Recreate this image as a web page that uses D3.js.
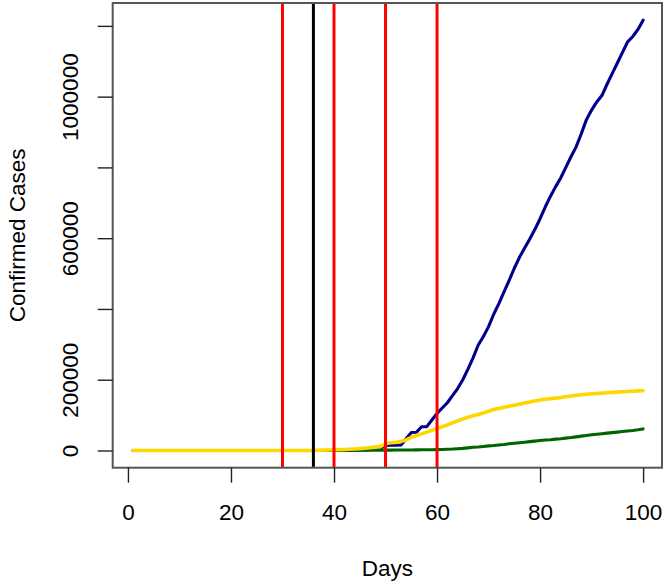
<!DOCTYPE html>
<html>
<head>
<meta charset="utf-8">
<script src="https://cdn.jsdelivr.net/npm/d3@7/dist/d3.min.js"></script>
<style>
  html, body { margin: 0; padding: 0; background: #fff; }
  svg { display: block; font-family: "Liberation Sans", Arial, sans-serif; }
</style>
</head>
<body>
<svg id="chart" width="667" height="585"></svg>
<script>
// ---------------- data ----------------
const days = d3.range(1, 101);

const blueSeries = [
  0, 0, 0, 0, 0, 0, 0, 0, 0, 0,
  0, 0, 0, 0, 0, 0, 0, 0, 0, 0,
  0, 0, 0, 0, 0, 0, 0, 0, 0, 0,
  0, 0, 0, 0, 0, 0, 0, 0, 0, 50,
  100, 200, 400, 600, 1000, 1600, 2500, 3500, 7000, 14000,
  15000, 15000, 15500, 33000, 51000, 51500, 67000, 67500, 86000, 105000,
  120000, 135000, 155000, 175000, 200000, 230000, 262000, 298000, 322000, 350000,
  385000, 415000, 448000, 481000, 515000, 546000, 572000, 598000, 625000, 655000,
  688000, 718000, 745000, 770000, 800000, 830000, 858000, 895000, 935000, 962000,
  985000, 1003000, 1035000, 1065000, 1095000, 1125000, 1155000, 1170000, 1190000, 1216000
];

const greenSeries = [
  0, 0, 0, 0, 0, 0, 0, 0, 0, 0,
  0, 0, 0, 0, 0, 0, 0, 0, 0, 0,
  0, 0, 0, 0, 0, 0, 0, 0, 0, 0,
  0, 0, 0, 0, 0, 0, 0, 100, 150, 300,
  350, 400, 500, 600, 700, 750, 800, 850, 900, 1000,
  1100, 1200, 1300, 1400, 1500, 1700, 1900, 2100, 2300, 2500,
  3000, 3500, 4000, 5000, 6000, 7500, 9000, 10000, 11500, 13000,
  14000, 15500, 17000, 19000, 20500, 22000, 23500, 25000, 26500, 28000,
  29500, 30500, 32000, 33000, 35000, 36500, 38500, 40500, 42500, 44500,
  46000, 47500, 49000, 50500, 52000, 53500, 55000, 56500, 58500, 61000
];

const yellowSeries = [
  0, 0, 0, 0, 0, 0, 0, 0, 0, 0,
  0, 0, 0, 0, 0, 0, 0, 0, 0, 0,
  0, 0, 0, 0, 0, 0, 0, 0, 0, 0,
  0, 0, 0, 0, 0, 300, 600, 1000, 1500, 2000,
  2500, 3000, 3600, 4300, 5200, 6500, 8000, 9500, 11000, 19000,
  22000, 23000, 25000, 30000, 37000, 42000, 47000, 52000, 57000, 62000,
  67000, 72000, 78000, 84000, 89000, 94000, 98000, 102000, 106000, 111000,
  116000, 119000, 122000, 125000, 128000, 131000, 134000, 137000, 140000, 143000,
  145000, 146500, 148000, 149500, 152000, 154000, 156000, 157500, 159000, 160000,
  161000, 162000, 163000, 164000, 165000, 166000, 166500, 167500, 168500, 169000
];

const redLines = [30, 40, 50, 60];
const blackLines = [36];

const xTicks = [0, 20, 40, 60, 80, 100];
const yTicks = [0, 200000, 400000, 600000, 800000, 1000000, 1200000];
const yTickLabels = [0, 200000, 600000, 1000000];

const xTitle = "Days";
const yTitle = "Confirmed Cases";

// ---------------- layout ----------------
const svg = d3.select("#chart");
const mLeft = 112.7, mRight = 663.5, boxRight = 662, mTop = 3, mBottom = 467.7;

const xMin = d3.min(days), xMax = d3.max(days);
const xPad = 0.04 * (xMax - xMin);
const yMaxData = d3.max([...blueSeries, ...greenSeries, ...yellowSeries]);
const yPad = 0.04 * yMaxData;

const x = d3.scaleLinear().domain([xMin - xPad, xMax + xPad]).range([mLeft, mRight]);
const y = d3.scaleLinear().domain([0 - yPad, yMaxData + yPad]).range([mBottom, mTop]);

const fontSize = 22.5;
const fontFam = "'Liberation Sans', Arial, sans-serif";

svg.append("clipPath").attr("id", "plotclip")
  .append("rect").attr("x", mLeft).attr("y", mTop)
  .attr("width", boxRight - mLeft).attr("height", mBottom - mTop);

const plot = svg.append("g").attr("clip-path", "url(#plotclip)");

const line = d3.line().x((d, i) => x(days[i])).y(d => y(d));

const series = [
  { values: blueSeries, color: "#00008B", width: 3.1 },
  { values: greenSeries, color: "#006400", width: 3.1 },
  { values: yellowSeries, color: "#FFD700", width: 3.6 }
];

series.forEach(s => {
  plot.append("path")
    .datum(s.values)
    .attr("fill", "none")
    .attr("stroke", s.color)
    .attr("stroke-width", s.width)
    .attr("stroke-linejoin", "round")
    .attr("stroke-linecap", "round")
    .attr("d", line);
});

redLines.forEach(v => {
  plot.append("line")
    .attr("x1", x(v)).attr("x2", x(v))
    .attr("y1", mTop).attr("y2", mBottom)
    .attr("stroke", "#FF0000").attr("stroke-width", 3);
});
blackLines.forEach(v => {
  plot.append("line")
    .attr("x1", x(v)).attr("x2", x(v))
    .attr("y1", mTop).attr("y2", mBottom)
    .attr("stroke", "#000").attr("stroke-width", 3);
});

svg.append("rect")
  .attr("x", mLeft).attr("y", mTop)
  .attr("width", boxRight - mLeft).attr("height", mBottom - mTop)
  .attr("fill", "none").attr("stroke", "#555").attr("stroke-width", 2);

const xAxis = d3.axisBottom(x).tickValues(xTicks).tickSize(15).tickSizeOuter(0).tickPadding(0)
  .tickFormat(d3.format("d"));
const gx = svg.append("g").attr("transform", `translate(0,${mBottom})`).call(xAxis);
gx.select(".domain").remove();
gx.selectAll(".tick line").attr("stroke", "#222").attr("stroke-width", 1.4);
gx.selectAll(".tick text")
  .attr("y", 52.5).attr("dy", null)
  .attr("fill", "#000")
  .style("font-size", fontSize + "px")
  .style("font-family", fontFam);

const yAxis = d3.axisLeft(y).tickValues(yTicks).tickSize(15).tickSizeOuter(0)
  .tickFormat(d => yTickLabels.includes(d) ? String(d) : "");
const gy = svg.append("g").attr("transform", `translate(${mLeft},0)`).call(yAxis);
gy.select(".domain").remove();
gy.selectAll(".tick line").attr("stroke", "#222").attr("stroke-width", 1.4);
gy.selectAll(".tick text")
  .attr("x", null).attr("dy", null)
  .attr("text-anchor", "middle")
  .attr("transform", "translate(-35,0) rotate(-90)")
  .attr("fill", "#000")
  .style("font-size", fontSize + "px")
  .style("font-family", fontFam);

svg.append("text")
  .attr("x", (mLeft + boxRight) / 2).attr("y", 576)
  .attr("text-anchor", "middle")
  .style("font-size", fontSize + "px")
  .style("font-family", fontFam)
  .text(xTitle);

svg.append("text")
  .attr("transform", `translate(25,${(mTop + mBottom) / 2}) rotate(-90)`)
  .attr("text-anchor", "middle")
  .style("font-size", fontSize + "px")
  .style("font-family", fontFam)
  .text(yTitle);
</script>
</body>
</html>
